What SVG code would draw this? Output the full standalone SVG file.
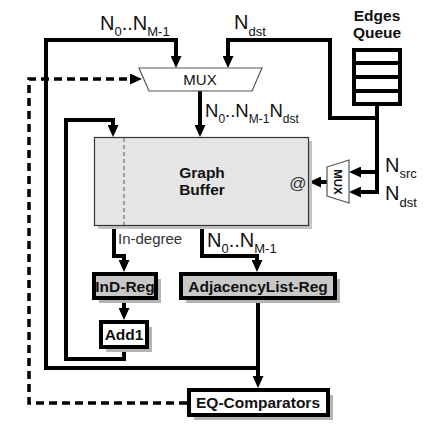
<svg xmlns="http://www.w3.org/2000/svg" width="430" height="434" viewBox="0 0 430 434">
<style>
.ln{fill:none;stroke:#000;stroke-width:4;stroke-linejoin:miter}
.dash{fill:none;stroke:#000;stroke-width:3.5;stroke-dasharray:8,5}
.box{stroke:#000;stroke-width:4}
.shadow{fill:#b4b4b4}
.bl{font-family:"Liberation Sans",Arial,sans-serif;font-weight:bold;font-size:15.5px;fill:#111;text-anchor:middle}
.lb{font-family:"Liberation Sans",Arial,sans-serif;font-size:20px;fill:#111}
.sm{font-family:"Liberation Sans",Arial,sans-serif;font-size:15px;fill:#333}
</style>
<defs>
<marker id="arr" viewBox="0 0 12 11" markerWidth="12" markerHeight="11" refX="4" refY="5.5" orient="auto" markerUnits="userSpaceOnUse">
<path d="M0,0 L12,5.5 L0,11 z" fill="#000"/>
</marker>
</defs>

<g id="connectors">
<path class="ln" d="M258,368 H46 V40 H176 V60" marker-end="url(#arr)"/>
<path class="ln" d="M258,299 V380" marker-end="url(#arr)"/>
<path class="ln" d="M377,118 H330 V40 H228 V60" marker-end="url(#arr)"/>
<path class="ln" d="M377,106 V192 H357" marker-end="url(#arr)"/>
<path class="ln" d="M377,172 H357" marker-end="url(#arr)"/>
<path class="ln" d="M327,182 H317" marker-end="url(#arr)"/>
<path class="ln" d="M200,91 V129" marker-end="url(#arr)"/>
<path class="ln" d="M124,349 V359 H66 V120 H113 V129" marker-end="url(#arr)"/>
<path class="ln" d="M124,299 V312" marker-end="url(#arr)"/>
<path class="ln" d="M114,226 V256 H124 V264" marker-end="url(#arr)"/>
<path class="ln" d="M202,226 V256 H257 V264" marker-end="url(#arr)"/>
<path class="dash" d="M187,403 H29 V79 H134" marker-end="url(#arr)"/>
<text class="lb" x="100" y="30">N<tspan font-size="13" dy="6">0</tspan><tspan dy="-6">..N</tspan><tspan font-size="13" dy="6">M-1</tspan></text>
<text class="lb" x="234" y="29">N<tspan font-size="13" dy="7">dst</tspan></text>
<text class="lb" x="205" y="117" style="font-size:18.5px">N<tspan font-size="12" dy="6">0</tspan><tspan dy="-6">..N</tspan><tspan font-size="12" dy="6">M-1</tspan><tspan dy="-6">N</tspan><tspan font-size="12" dy="6">dst</tspan></text>
<text class="lb" x="385" y="172">N<tspan font-size="13" dy="6">src</tspan></text>
<text class="lb" x="385" y="200">N<tspan font-size="13" dy="7">dst</tspan></text>
<text class="sm" x="118" y="244">In-degree</text>
<text class="lb" x="207" y="247">N<tspan font-size="13" dy="6">0</tspan><tspan dy="-6">..N</tspan><tspan font-size="13" dy="6">M-1</tspan></text>
</g>

<g id="mux-top">
<polygon points="139,68 262,68 252,91 149,91" fill="#fff" stroke="#555" stroke-width="1.2"/>
<text x="200" y="85" font-family="'Liberation Sans',Arial,sans-serif" font-size="15" fill="#111" text-anchor="middle">MUX</text>
</g>

<g id="edges-queue">
<text class="bl" x="377" y="21">Edges</text>
<text class="bl" x="377" y="38">Queue</text>
<rect class="box" x="354" y="50" width="46" height="54" fill="#fff"/>
<path class="ln" d="M354,63 H400 M354,77 H400 M354,91 H400"/>
</g>

<g id="graph-buffer">
<rect x="98" y="141" width="214" height="88" fill="#c4c4c4"/>
<rect x="94.5" y="137.5" width="214" height="88" fill="#e5e5e5" stroke="#333" stroke-width="1.2"/>
<line x1="124" y1="138" x2="124" y2="225" stroke="#888" stroke-width="1.5" stroke-dasharray="4,3"/>
<text class="bl" x="202" y="178">Graph</text>
<text class="bl" x="202" y="195">Buffer</text>
<text x="298" y="189" font-family="'Liberation Sans',Arial,sans-serif" font-size="17" fill="#333" text-anchor="middle">@</text>
</g>

<g id="mux-right">
<polygon points="327,167 349,160 349,203 327,196" fill="#fff" stroke="#555" stroke-width="1.2"/>
<text x="338" y="182" transform="rotate(90 338 182)" dy="4" font-family="'Liberation Sans',Arial,sans-serif" font-weight="bold" font-size="11.5" fill="#111" text-anchor="middle">MUX</text>
</g>

<g id="ind-reg">
<rect class="shadow" x="99" y="279" width="62" height="24"/>
<rect class="box" x="94" y="274" width="62" height="24" fill="#c8c8c8"/>
<text class="bl" x="125" y="292">InD-Reg</text>
</g>

<g id="adjacency-reg">
<rect class="shadow" x="186" y="279" width="154" height="24"/>
<rect class="box" x="181" y="274" width="154" height="24" fill="#c8c8c8"/>
<text class="bl" x="258" y="292">AdjacencyList-Reg</text>
</g>

<g id="add1">
<rect class="shadow" x="106" y="327" width="46" height="25"/>
<rect class="box" x="101" y="322" width="46" height="25" fill="#fff"/>
<text class="bl" x="124" y="340">Add1</text>
</g>

<g id="eq-comparators">
<rect class="shadow" x="194" y="395" width="139" height="25"/>
<rect class="box" x="189" y="390" width="139" height="25" fill="#fff"/>
<text class="bl" x="258" y="408">EQ-Comparators</text>
</g>
</svg>
